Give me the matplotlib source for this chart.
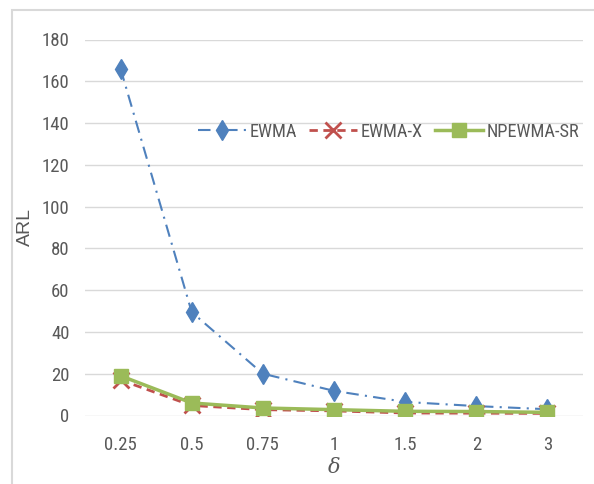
import matplotlib
matplotlib.use("Agg")
import matplotlib.pyplot as plt
from matplotlib.patches import Rectangle

categories = ["0.25", "0.5", "0.75", "1", "1.5", "2", "3"]
ewma = [166, 49.5, 20, 11.8, 6.5, 4.5, 3.0]
ewma_x = [17, 4.8, 2.8, 2.2, 1.2, 1.1, 1.0]
npewma_sr = [19, 6.0, 3.6, 2.8, 2.0, 1.9, 1.5]
yticks = [0, 20, 40, 60, 80, 100, 120, 140, 160, 180]

plt.rcParams['font.family'] = ['Roboto Condensed', 'DejaVu Sans']

W, H = 594, 484
fig = plt.figure(figsize=(W / 100, H / 100), dpi=100)
ax = fig.add_axes([85 / W, 1 - 415.5 / H, (583 - 85) / W, (415.5 - 39.5) / H])

# outer chart border (cropped at right and bottom)
fig.patches.append(Rectangle((12 / W, -0.05), 1.2, 1 - 10 / H + 0.05, transform=fig.transFigure,
                             fill=False, edgecolor='#d9d9d9', linewidth=1.5))

x = list(range(len(categories)))
ax.plot(x, ewma, color='#4f81bd', linestyle=(0, (6, 3, 1, 3)), linewidth=1.5,
        marker='d', markersize=10, markerfacecolor='#4f81bd', markeredgecolor='#4f81bd',
        label='EWMA', zorder=3)
ax.plot(x, ewma_x, color='#c0504d', linestyle=(0, (3, 2)), linewidth=2,
        marker='x', markersize=12, markeredgewidth=2, label='EWMA-X', zorder=4)
ax.plot(x, npewma_sr, color='#9bbb59', linestyle='-', linewidth=2.5,
        marker='s', markersize=10, markerfacecolor='#9bbb59', markeredgecolor='#9bbb59',
        label='NPEWMA-SR', zorder=5)

ax.set_xlim(-0.5, len(categories) - 0.5)
ax.set_ylim(0, 180)
ax.set_xticks(x)
ax.set_xticklabels(categories)
ax.set_yticks(yticks)
ax.grid(axis='y', color='#d9d9d9', linewidth=1)
ax.set_axisbelow(True)
for s in ax.spines.values():
    s.set_visible(False)
ax.tick_params(axis='both', length=0, labelsize=13.5, labelcolor='#595959')
ax.tick_params(axis='x', pad=14.5)
ax.tick_params(axis='y', pad=11)

ax.set_ylabel('ARL', fontsize=14, color='#595959', family=['Liberation Sans', 'DejaVu Sans'])
ax.yaxis.set_label_coords(-(85 - 34) / (583 - 85), (415.5 - 227) / (415.5 - 39.5))
ax.set_xlabel('δ', fontsize=15, color='#595959', style='italic', family=['DejaVu Serif'])
ax.xaxis.set_label_coords((334 - 85) / (583 - 85), -(458 - 415.5) / (415.5 - 39.5))

fig.legend(loc='center left', bbox_to_anchor=(198 / W, 1 - 131.7 / H), ncol=3, frameon=False,
           fontsize=13.2, labelcolor='#595959', handlelength=2.6, handletextpad=0.22,
           columnspacing=0.65, borderpad=0, borderaxespad=0)

fig.savefig('out.png', dpi=100, facecolor='white')
